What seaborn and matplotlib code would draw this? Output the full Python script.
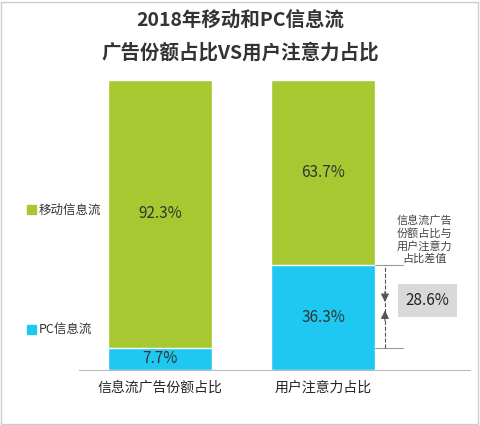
import matplotlib.pyplot as plt
import seaborn as sns
import pandas as pd

categories = ["信息流广告份额占比", "用户注意力占比"]
pc_share = [7.7, 36.3]
mobile_share = [92.3, 63.7]
diff_label = "28.6%"

sns.set_style("white")
plt.rcParams['font.family'] = ['Noto Sans CJK SC', 'DejaVu Sans']

green = "#a8c832"
blue = "#1ec8f0"

df = pd.DataFrame({"cat": categories, "pc": pc_share, "mobile": mobile_share})
df["total"] = df["pc"] + df["mobile"]

fig = plt.figure(figsize=(4.8, 4.25), dpi=100)
W, H = 480, 425
unit = 163
left = 160 - 0.5 * unit
ax = fig.add_axes([left / W, 55 / H, 2.4 * unit / W, 290 / H])

sns.barplot(data=df, x="cat", y="total", color=green, width=0.64, saturation=1, ax=ax)
sns.barplot(data=df, x="cat", y="pc", color=blue, width=0.64, saturation=1, ax=ax)
ax.set_xlim(-0.5, 1.9)
ax.set_ylim(0, 100)
ax.set_xlabel("")
ax.set_ylabel("")
ax.set_yticks([])
ax.tick_params(axis="x", length=0, labelsize=10, pad=8)
for s in ["top", "right", "left"]:
    ax.spines[s].set_visible(False)
ax.spines["bottom"].set_color("#bbbbbb")

for i in range(2):
    ax.text(i, pc_share[i] / 2, f"{pc_share[i]}%", ha="center", va="center", fontsize=11, color="#333333")
    ax.text(i, pc_share[i] + mobile_share[i] / 2, f"{mobile_share[i]}%", ha="center", va="center", fontsize=11, color="#333333")

# difference annotation
x0 = 1 + 0.32
ax.plot([x0, x0 + 0.17], [pc_share[1], pc_share[1]], color="#999999", lw=0.8, clip_on=False)
ax.plot([x0, x0 + 0.17], [pc_share[0], pc_share[0]], color="#999999", lw=0.8, clip_on=False)
xa = x0 + 0.06
mid = (pc_share[0] + pc_share[1]) / 2
ax.plot([xa, xa], [pc_share[0], pc_share[1]], color="#555555", lw=0.8, ls="--")
ax.annotate("", xy=(xa, mid + 0.5), xytext=(xa, mid + 6),
            arrowprops=dict(arrowstyle="-|>", color="#555555", lw=0.8, mutation_scale=12))
ax.annotate("", xy=(xa, mid - 0.5), xytext=(xa, mid - 6),
            arrowprops=dict(arrowstyle="-|>", color="#555555", lw=0.8, mutation_scale=12))
ax.text(x0 + 0.32, 24, diff_label, ha="center", va="center", fontsize=11, color="#222222",
        bbox=dict(boxstyle="square,pad=0.5", fc="#d9d9d9", ec="none"))
ax.text(x0 + 0.3, 45, "信息流广告\n份额占比与\n用户注意力\n占比差值", ha="center", va="center",
        fontsize=8, color="#444444", linespacing=1.2)

fig.text(0.5, 1 - 20 / H, "2018年移动和PC信息流", ha="center", va="center", fontsize=14, fontweight="bold", color="#333333")
fig.text(0.5, 1 - 53 / H, "广告份额占比VS用户注意力占比", ha="center", va="center", fontsize=14, fontweight="bold", color="#333333")

# legend
fig.patches.append(plt.Rectangle((27 / W, 1 - 214 / H), 9 / W, 9 / H, transform=fig.transFigure, color=green))
fig.text(39 / W, 1 - 210 / H, "移动信息流", va="center", fontsize=9, color="#333333")
fig.patches.append(plt.Rectangle((27 / W, 1 - 334 / H), 9 / W, 9 / H, transform=fig.transFigure, color=blue))
fig.text(39 / W, 1 - 330 / H, "PC信息流", va="center", fontsize=9, color="#333333")

fig.patches.append(plt.Rectangle((1 / W, 1 / H), 1 - 3 / W, 1 - 3 / H, transform=fig.transFigure, fill=False, ec="#cccccc", lw=1))

fig.savefig("out.png", dpi=100)
